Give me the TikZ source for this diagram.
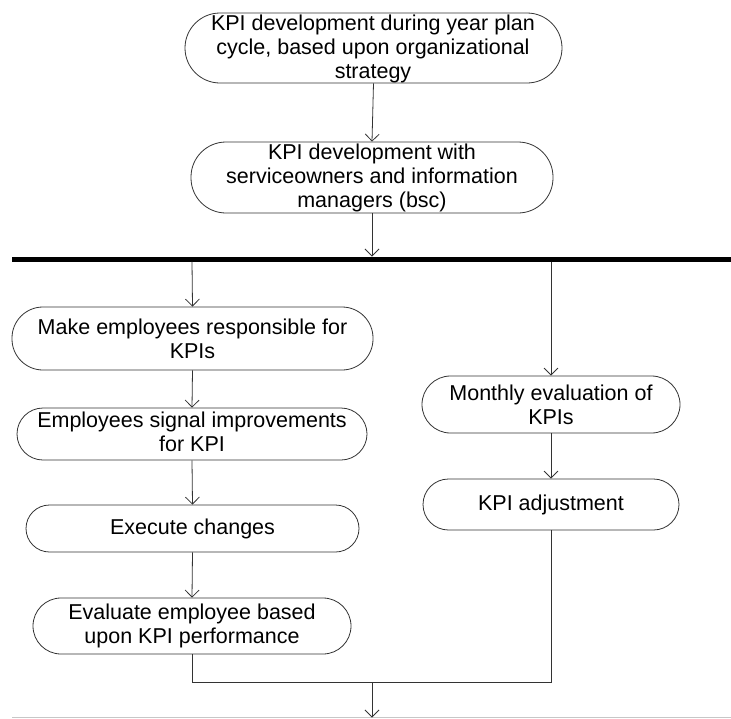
\documentclass[tikz,border=0pt]{standalone}
\usepackage{fontspec}
\setmainfont{Liberation Sans}
\usetikzlibrary{arrows.meta}
\begin{document}
\begin{tikzpicture}[x=1pt, y=-1pt,
  line width=0.8pt,
  pill/.style n args={3}{draw=black!80, line width=0.8pt, inner sep=0pt,
    minimum width=#1, minimum height=#2, rounded corners=#3},
  lbl/.style={font=\fontsize{21.5}{24}\selectfont, align=center, inner sep=0pt},
  flow/.style={draw=black!80, -{Straight Barb[length=7pt,width=14pt]}},
  wire/.style={draw=black!80}
]
\useasboundingbox (0,0) rectangle (731,718);

% planning stage
\node[pill={377pt}{70pt}{35pt}] (plan) at (373.5,48) {};
\node[lbl] (plant) at (373,49) {KPI development during year plan\\cycle, based upon organizational\\strategy};
\node[pill={362pt}{71pt}{35pt}] (dev) at (372,177.5) {};
\node[lbl] (devt) at (372,178) {KPI development with\\serviceowners and information\\managers (bsc)};

% fork bar
\coordinate (barL) at (12,259);
\coordinate (barR) at (731,259);
\draw[line width=5pt] (barL) -- (barR);
\coordinate (barC) at (372,256.5);
\coordinate (forkA) at (192,261.5);
\coordinate (forkB) at (551,261.5);

% left branch
\node[pill={361pt}{63pt}{31pt}] (resp) at (192.5,338.5) {};
\node[lbl] (respt) at (resp.center) {Make employees responsible for\\KPIs};
\node[pill={350pt}{52pt}{26pt}] (signal) at (192,434) {};
\node[lbl] (signalt) at (192,432) {Employees signal improvements\\for KPI};
\node[pill={333pt}{47pt}{23.5pt}] (exec) at (192.5,528.5) {};
\node[lbl] (exect) at (exec.center) {Execute changes};
\node[pill={318pt}{56pt}{28pt}] (eval) at (192,626) {};
\node[lbl] (evalt) at (eval.center) {Evaluate employee based\\upon KPI performance};

% right branch
\node[pill={258pt}{57pt}{28.5pt}] (month) at (551,404.5) {};
\node[lbl] (montht) at (month.center) {Monthly evaluation of\\KPIs};
\node[pill={256pt}{51pt}{25.5pt}] (adj) at (551,504.5) {};
\node[lbl] (adjt) at (adj.center) {KPI adjustment};

% join
\coordinate (joinL) at (192,682);
\coordinate (joinR) at (551,682);
\coordinate (joinC) at (372,682);
\coordinate (endC) at (372,717.5);
\coordinate (endL) at (12,717.5);
\coordinate (endR) at (731,717.5);
\draw[draw=black!22, line width=1pt] (endL) -- (endR);

% connectors
\draw[flow] (plan.south) -- (dev.north);
\draw[flow] (dev.south) -- (barC);
\draw[flow] (forkA) -- (resp.north);
\draw[flow] (resp.south) -- (signal.north);
\draw[flow] (signal.south) -- (exec.north);
\draw[flow] (exec.south) -- (eval.north);
\draw[flow] (forkB) -- (month.north);
\draw[flow] (month.south) -- (adj.north);
\draw[wire] (eval.south) -- (joinL) -- (joinR) -- (adj.south);
\draw[flow] (joinC) -- (endC);
\end{tikzpicture}
\end{document}
